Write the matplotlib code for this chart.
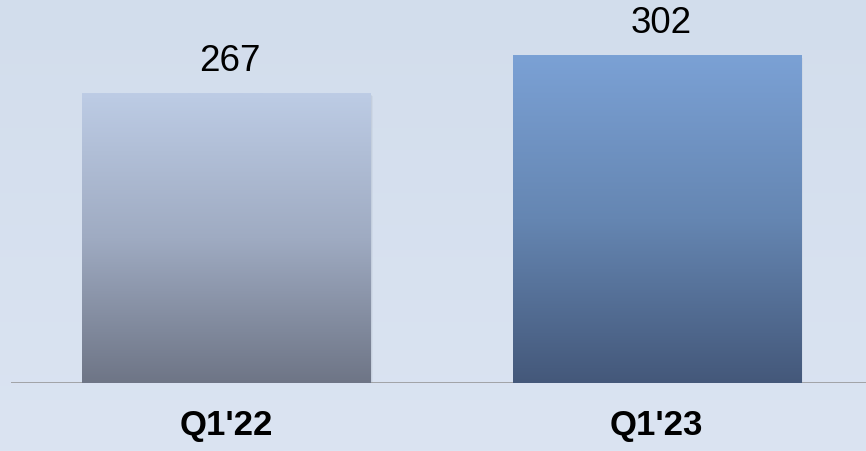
import matplotlib.pyplot as plt
import matplotlib
import numpy as np
from matplotlib.colors import LinearSegmentedColormap

matplotlib.rcParams.update({
    'font.family': ['Liberation Sans', 'DejaVu Sans'],
})

# data
categories = ["Q1'22", "Q1'23"]
values = [267, 302]

# bar gradients (bottom, middle, top colour)
bar_bottoms = ['#6E7586', '#44587A']
bar_mids = ['#9FABC2', '#6586B2']
bar_tops = ['#BDCCE5', '#7BA1D5']

fig = plt.figure(figsize=(8.66, 4.52), dpi=100)

# background gradient
bg = fig.add_axes([0, 0, 1, 1])
bg_cmap = LinearSegmentedColormap.from_list('bg', ['#DBE4F2', '#D2DDEC'])
bg.imshow(np.linspace(0, 1, 256).reshape(-1, 1), cmap=bg_cmap, aspect='auto',
          extent=(0, 1, 0, 1), origin='lower')
bg.set_axis_off()

ax = fig.add_axes([11 / 866, 68 / 452, 855 / 866, 384 / 452])
ax.patch.set_alpha(0)

x = np.arange(len(categories))
width = 0.669
ax.set_xlim(-0.4994, 1.4866)
ax.set_ylim(0, 353.6)

grad = np.linspace(0, 1, 256).reshape(-1, 1)
for i, (xi, v) in enumerate(zip(x, values)):
    # soft shadow
    for k, a in zip([1, 2, 3], [0.12, 0.08, 0.05]):
        dx = k * 0.0023
        dy = k * 0.9
        ax.add_patch(plt.Rectangle((xi - width / 2 + dx, -dy), width, v,
                                   color='#55606F', alpha=a, lw=0, zorder=1))
    cmap = LinearSegmentedColormap.from_list(
        'b%d' % i, [bar_bottoms[i], bar_mids[i], bar_tops[i]])
    ax.imshow(grad, cmap=cmap, aspect='auto', origin='lower',
              extent=(xi - width / 2, xi + width / 2, 0, v), zorder=2)
    ax.text(xi + 0.01, v + 14, str(v), ha='center', va='bottom',
            fontsize=26.5, color='black', zorder=3)

ax.axhline(0, color='#909090', lw=1.8, zorder=1.5)

ax.set_xticks(x)
ax.set_xticklabels(categories, fontsize=25, fontweight='bold')
ax.tick_params(axis='x', length=0, pad=18)
ax.set_yticks([])
for s in ax.spines.values():
    s.set_visible(False)

fig.savefig('out.png', dpi=100)
